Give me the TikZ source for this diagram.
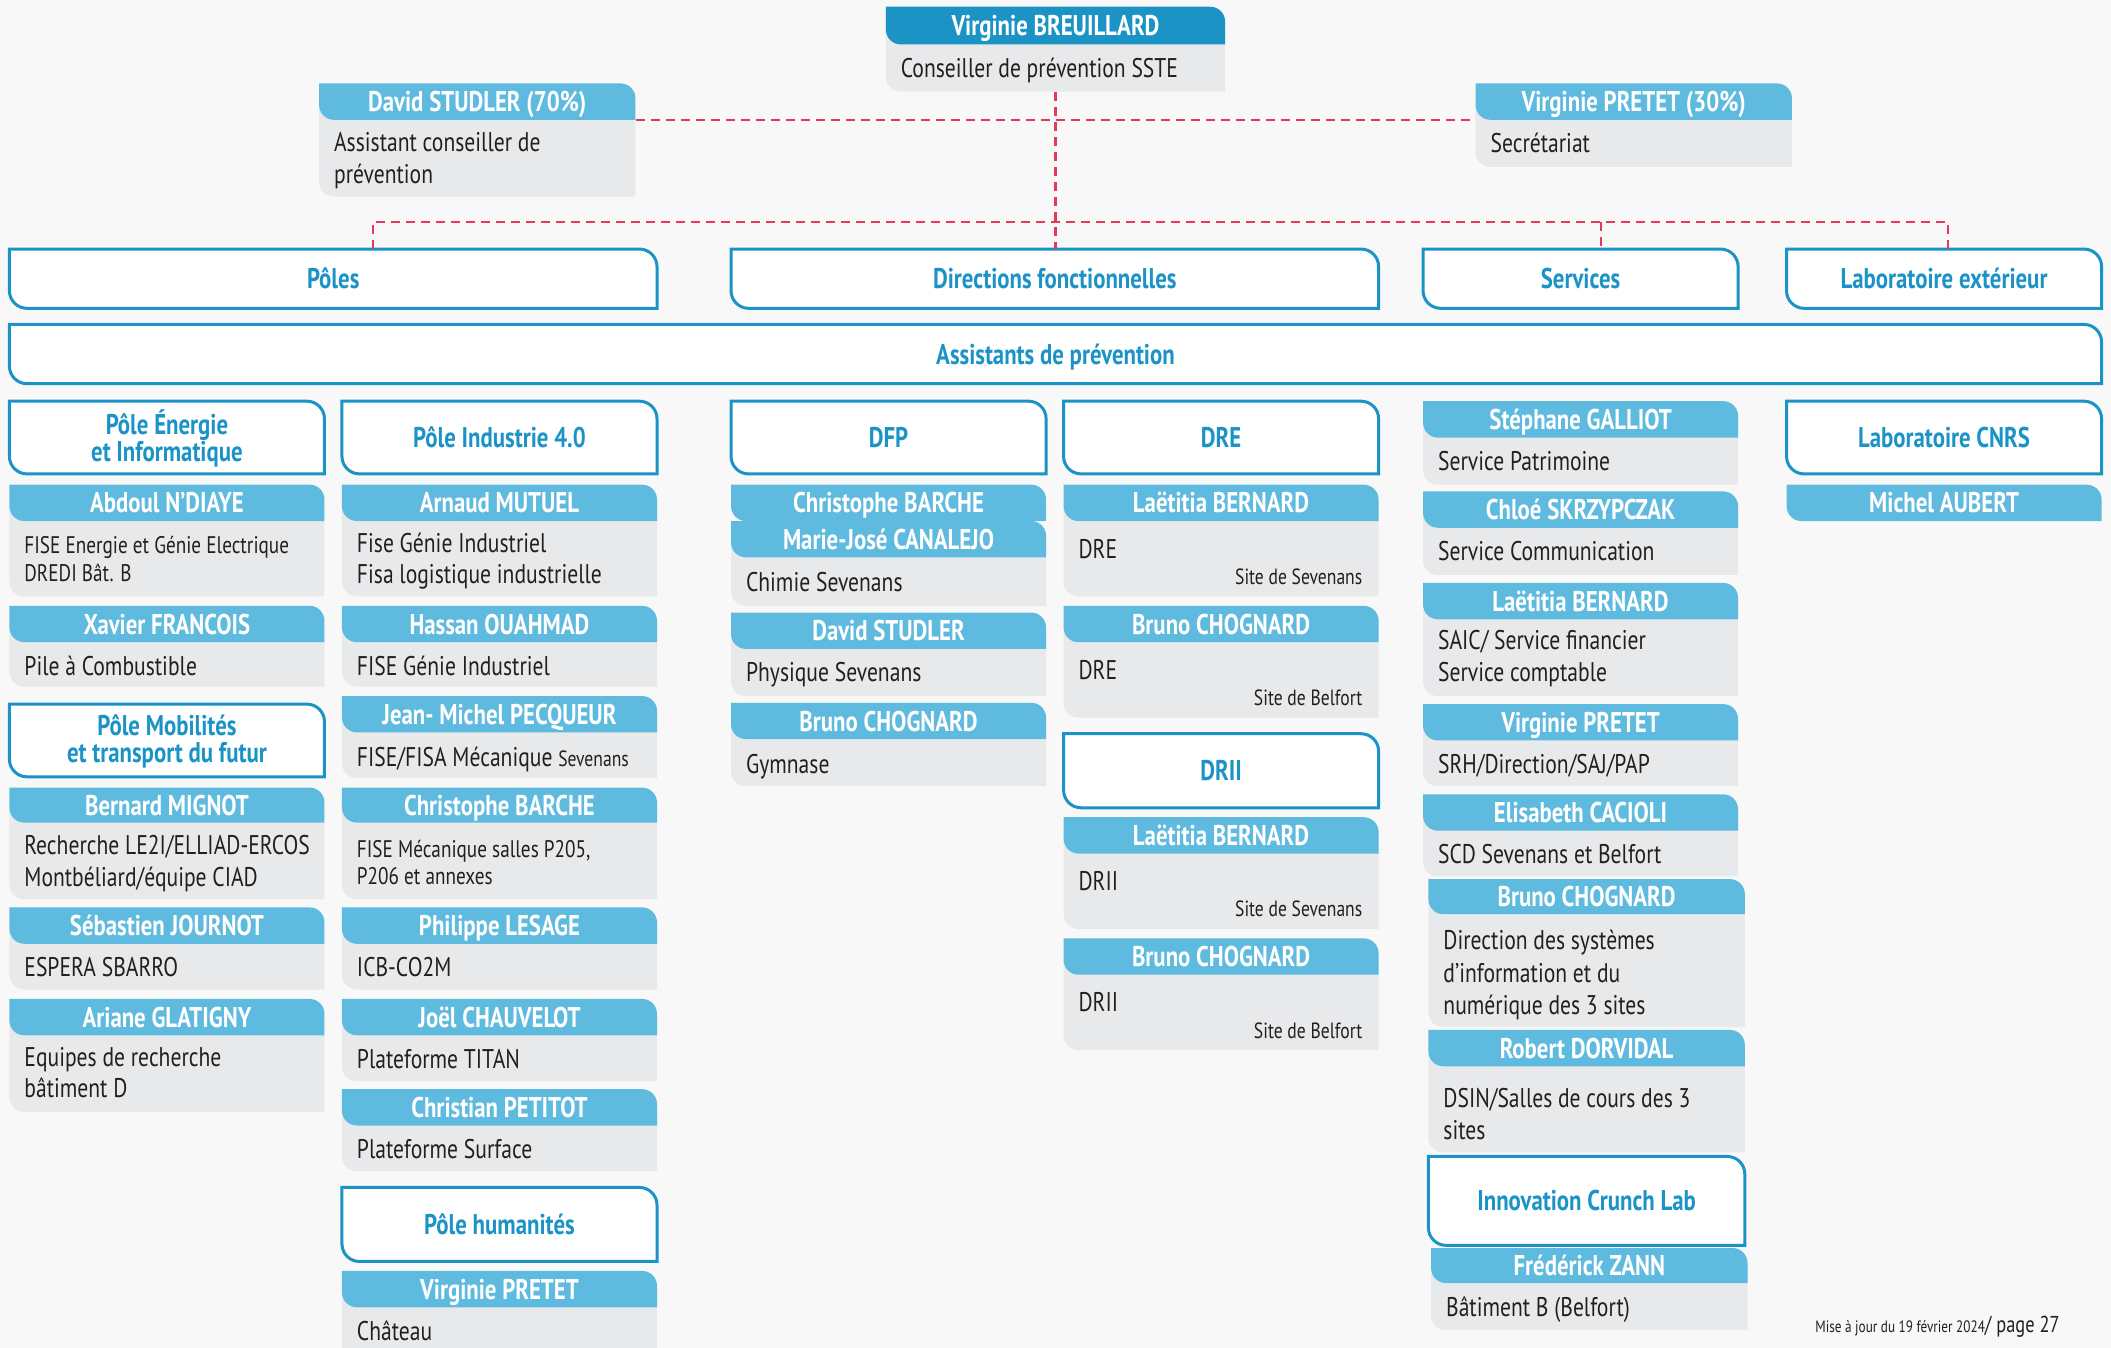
\documentclass[tikz,border=0pt]{standalone}
\usepackage{fontspec}
\setmainfont{PT Sans}[FakeStretch=0.80]
\definecolor{tabdark}{HTML}{1B93C4}
\definecolor{tablight}{HTML}{5FBADF}
\definecolor{cardgrey}{HTML}{E8E9EB}
\definecolor{outblue}{HTML}{1B93C6}
\definecolor{dashred}{HTML}{E6395A}
\definecolor{textdark}{HTML}{231F20}
\definecolor{bgcol}{HTML}{F8F8F8}
\newcommand\crad{11}
\newcommand\orad{13}
\newcommand\tabshape[5]{\fill[#1] (#2,#4) -- ({#3-\crad},#4) .. controls ({#3-0.45*\crad},#4) and (#3,{#4+0.45*\crad}) .. (#3,{#4+\crad}) -- (#3,#5) -- ({#2+\crad},#5) .. controls ({#2+0.45*\crad},#5) and (#2,{#5-0.45*\crad}) .. (#2,{#5-\crad}) -- cycle;}
\newcommand\bodyshape[4]{\fill[cardgrey] (#1,#3) -- (#2,#3) -- (#2,#4) -- ({#1+\crad},#4) .. controls ({#1+0.45*\crad},#4) and (#1,{#4-0.45*\crad}) .. (#1,{#4-\crad}) -- cycle;}
\newcommand\card[7]{\bodyshape{#2}{#3}{{(#4+#5)/2}}{#6}\tabshape{tablight}{#2}{#3}{#4}{#5}\node[nametext] (#1) at ({(#2+#3)/2},{(#4+#5)/2+7.5}) {#7};}
\newcommand\tabonly[6]{\tabshape{tablight}{#2}{#3}{#4}{#5}\node[nametext] (#1) at ({(#2+#3)/2},{(#4+#5)/2+7.5}) {#6};}
\newcommand\outpath[4]{\draw[outshape] (#1,#3) -- ({#2-\orad},#3) .. controls ({#2-0.45*\orad},#3) and (#2,{#3+0.45*\orad}) .. (#2,{#3+\orad}) -- (#2,#4) -- ({#1+\orad},#4) .. controls ({#1+0.45*\orad},#4) and (#1,{#4-0.45*\orad}) .. (#1,{#4-\orad}) -- cycle;}
\newcommand\outbox[6]{\outpath{#2}{#3}{#4}{#5}\node[outtext, minimum width={(#3-#2)*1.3463pt}, minimum height={(#5-#4)*1.3463pt}] (#1) at ({(#2+#3)/2},{(#4+#5)/2}) {#6};}
\newcommand\outboxtwo[6]{\outpath{#2}{#3}{#4}{#5}\node[outtexttwo, minimum width={(#3-#2)*1.3463pt}, minimum height={(#5-#4)*1.3463pt}] (#1) at ({(#2+#3)/2},{(#4+#5)/2+1}) {#6};}
\newcommand\areanode[5]{\node[inner sep=0pt, minimum width={(#3-#2)*1.3463pt}, minimum height={(#5-#4)*1.3463pt}] (#1) at ({(#2+#3)/2},{(#4+#5)/2}) {};}
\newcommand\txt[4]{\node[bodytext,anchor=base west] (#1) at (#2,{#3+7.5}) {#4};}
\newcommand\stxt[4]{\node[smalltext,anchor=base west] (#1) at (#2,{#3+6}) {#4};}
\newcommand\stxtr[4]{\node[smalltext,anchor=base east,font=\fontsize{22}{26}\selectfont] (#1) at (#2,{#3+6}) {#4};}
\tikzset{
  nametext/.style={anchor=base, text=white, font=\bfseries\fontsize{28.5}{32}\selectfont, inner sep=0pt},
  bodytext/.style={text=textdark, font=\fontsize{27}{32}\selectfont, inner sep=0pt},
  smalltext/.style={text=textdark, font=\fontsize{24}{28}\selectfont, inner sep=0pt},
  outtext/.style={text=outblue, font=\bfseries\fontsize{28.5}{27}\selectfont, inner sep=0pt, text height=20pt, text depth=0pt},
  outtexttwo/.style={text=outblue, font=\bfseries\fontsize{28.5}{27}\selectfont, inner sep=0pt, align=center},
  outshape/.style={draw=outblue, line width=3pt, fill=white},
  dashline/.style={draw=dashred, line width=2.2pt, dash pattern=on 9pt off 6pt},
}
\begin{document}
\begin{tikzpicture}[x=1.3463pt, y=-1.3463pt]
\useasboundingbox (0,0) rectangle (1568,1001);
\fill[bgcol] (0,0) rectangle (1568,1001);

% top level
\bodyshape{658}{910}{19}{68}
\tabshape{tabdark}{658}{910}{5}{33}
\node[nametext] (boss) at (784,26.5) {Virginie BREUILLARD};
\areanode{bossbody}{658}{910}{33}{68}
\txt{boss-t}{669}{50}{Conseiller de prévention SSTE}

\card{david}{237}{472}{62}{89}{146}{David STUDLER (70\%)}
\areanode{davidbody}{237}{472}{89}{146}
\txt{david-t1}{248}{105}{Assistant conseiller de}
\txt{david-t2}{248}{129}{prévention}

\card{pretet}{1096}{1331}{62}{89}{124}{Virginie PRETET (30\%)}
\areanode{pretetbody}{1096}{1331}{89}{124}
\txt{pretet-t}{1107}{106}{Secrétariat}

% categories
\outbox{poles}{7}{488}{185}{229}{Pôles}
\outbox{directions}{543}{1024}{185}{229}{Directions fonctionnelles}
\outbox{services}{1057}{1291}{185}{229}{Services}
\outbox{labext}{1327}{1561}{185}{229}{Laboratoire extérieur}
\outbox{assist}{7}{1561}{241}{285}{Assistants de prévention}

% connectors
\coordinate (busL) at (277,165);
\coordinate (busS) at (1189,165);
\coordinate (busR) at (1447,165);
\draw[dashline] (davidbody.north east) -- (pretetbody.north west);
\draw[dashline] (bossbody.south) -- (bossbody.south |- directions.north);
\draw[dashline] (busL |- poles.north) -- (busL) -- (busR) -- (busR |- labext.north);
\draw[dashline] (busS) -- (busS |- services.north);

% column 1
\outboxtwo{energie}{7}{241}{298}{352}{Pôle Énergie\\et Informatique}
\card{ndiaye}{7}{241}{360}{387}{443}{Abdoul N'DIAYE}
\stxt{ndiaye-t1}{18}{405}{FISE Energie et Génie Electrique}
\stxt{ndiaye-t2}{18}{426}{DREDI Bât. B}
\card{francois}{7}{241}{450}{477}{510}{Xavier FRANCOIS}
\txt{francois-t}{18}{494}{Pile à Combustible}
\outboxtwo{mobilites}{7}{241}{523}{577}{Pôle Mobilités\\et transport du futur}
\card{mignot}{7}{241}{585}{611}{668}{Bernard MIGNOT}
\txt{mignot-t1}{18}{627}{Recherche LE2I/ELLIAD-ERCOS}
\txt{mignot-t2}{18}{651}{Montbéliard/équipe CIAD}
\card{journot}{7}{241}{674}{701}{735}{Sébastien JOURNOT}
\txt{journot-t}{18}{718}{ESPERA SBARRO}
\card{glatigny}{7}{241}{742}{769}{826}{Ariane GLATIGNY}
\txt{glatigny-t1}{18}{785}{Equipes de recherche}
\txt{glatigny-t2}{18}{808}{bâtiment D}

% column 2
\outbox{industrie}{254}{488}{298}{352}{Pôle Industrie 4.0}
\card{mutuel}{254}{488}{360}{387}{443}{Arnaud MUTUEL}
\txt{mutuel-t1}{265}{403}{Fise Génie Industriel}
\txt{mutuel-t2}{265}{426}{Fisa logistique industrielle}
\card{ouahmad}{254}{488}{450}{477}{510}{Hassan OUAHMAD}
\txt{ouahmad-t}{265}{494}{FISE Génie Industriel}
\card{pecqueur}{254}{488}{517}{544}{578}{Jean- Michel PECQUEUR}
\txt{pecqueur-t}{265}{562}{FISE/FISA Mécanique {\fontsize{22}{24}\selectfont Sevenans}}
\card{barche}{254}{488}{585}{611}{668}{Christophe BARCHE}
\stxt{barche-t1}{265}{631}{FISE Mécanique salles P205,}
\stxt{barche-t2}{265}{651}{P206 et annexes}
\card{lesage}{254}{488}{674}{701}{735}{Philippe LESAGE}
\txt{lesage-t}{265}{718}{ICB-CO2M}
\card{chauvelot}{254}{488}{742}{769}{803}{Joël CHAUVELOT}
\txt{chauvelot-t}{265}{786}{Plateforme TITAN}
\card{petitot}{254}{488}{809}{836}{870}{Christian PETITOT}
\txt{petitot-t}{265}{853}{Plateforme Surface}
\outbox{humanites}{254}{488}{882}{937}{Pôle humanités}
\card{pretet2}{254}{488}{944}{971}{1015}{Virginie PRETET}
\txt{pretet2-t}{265}{988}{Château}

% column 3
\outbox{dfp}{543}{777}{298}{352}{DFP}
\tabonly{barche2}{543}{777}{360}{387}{Christophe BARCHE}
\card{canalejo}{543}{777}{387}{414}{450}{Marie-José CANALEJO}
\txt{canalejo-t}{554}{432}{Chimie Sevenans}
\card{studler2}{543}{777}{455}{482}{517}{David STUDLER}
\txt{studler2-t}{554}{499}{Physique Sevenans}
\card{chognard1}{543}{777}{522}{549}{584}{Bruno CHOGNARD}
\txt{chognard1-t}{554}{567}{Gymnase}

% column 4
\outbox{dre}{790}{1024}{298}{352}{DRE}
\card{bernard1}{790}{1024}{360}{387}{443}{Laëtitia BERNARD}
\txt{bernard1-t}{801}{407}{DRE}
\stxtr{bernard1-s}{1012}{428}{Site de Sevenans}
\card{chognard2}{790}{1024}{450}{477}{533}{Bruno CHOGNARD}
\txt{chognard2-t}{801}{497}{DRE}
\stxtr{chognard2-s}{1012}{518}{Site de Belfort}
\outbox{drii}{790}{1024}{545}{600}{DRII}
\card{bernard2}{790}{1024}{607}{634}{690}{Laëtitia BERNARD}
\txt{bernard2-t}{801}{654}{DRII}
\stxtr{bernard2-s}{1012}{675}{Site de Sevenans}
\card{chognard3}{790}{1024}{697}{724}{780}{Bruno CHOGNARD}
\txt{chognard3-t}{801}{744}{DRII}
\stxtr{chognard3-s}{1012}{765}{Site de Belfort}

% column 5
\card{galliot}{1057}{1291}{298}{325}{360}{Stéphane GALLIOT}
\txt{galliot-t}{1068}{342}{Service Patrimoine}
\card{skrzypczak}{1057}{1291}{365}{392}{427}{Chloé SKRZYPCZAK}
\txt{skrzypczak-t}{1068}{409}{Service Communication}
\card{bernard3}{1057}{1291}{433}{460}{517}{Laëtitia BERNARD}
\txt{bernard3-t1}{1068}{475}{SAIC/ Service financier}
\txt{bernard3-t2}{1068}{499}{Service comptable}
\card{pretet3}{1057}{1291}{523}{550}{584}{Virginie PRETET}
\txt{pretet3-t}{1068}{567}{SRH/Direction/SAJ/PAP}
\card{cacioli}{1057}{1291}{590}{617}{651}{Elisabeth CACIOLI}
\txt{cacioli-t}{1068}{634}{SCD Sevenans et Belfort}
\card{chognard4}{1061}{1296}{653}{679}{763}{Bruno CHOGNARD}
\txt{chognard4-t1}{1072}{698}{Direction des systèmes}
\txt{chognard4-t2}{1072}{722}{d'information et du}
\txt{chognard4-t3}{1072}{746}{numérique des 3 sites}
\card{dorvidal}{1061}{1296}{765}{792}{856}{Robert DORVIDAL}
\txt{dorvidal-t1}{1072}{815}{DSIN/Salles de cours des 3}
\txt{dorvidal-t2}{1072}{839}{sites}
\outbox{crunch}{1061}{1296}{859}{925}{Innovation Crunch Lab}
\card{zann}{1063}{1298}{927}{953}{988}{Frédérick ZANN}
\txt{zann-t}{1074}{970}{Bâtiment B (Belfort)}

% column 6
\outbox{cnrs}{1327}{1561}{298}{352}{Laboratoire CNRS}
\tabonly{aubert}{1327}{1561}{360}{387}{Michel AUBERT}

% footer
\node[anchor=base east, inner sep=0pt, text=textdark] (footer) at (1530,990) {\fontsize{16.5}{18}\selectfont Mise à jour du 19 février 2024\fontsize{23}{24}\selectfont/ page 27};
\end{tikzpicture}
\end{document}
